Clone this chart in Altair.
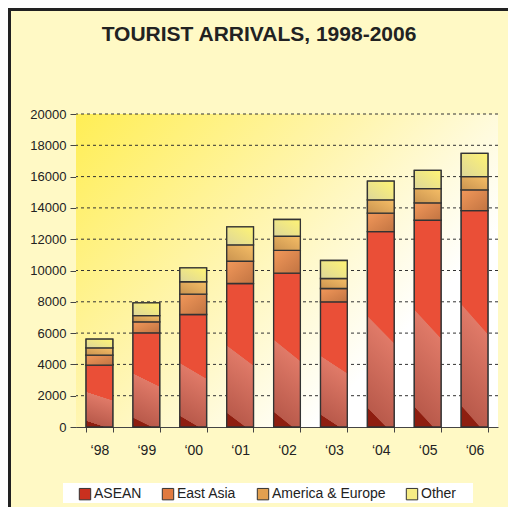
import altair as alt
import pandas as pd

years = ["\u201898", "\u201899", "\u201800", "\u201801", "\u201802", "\u201803", "\u201804", "\u201805", "\u201806"]
series = ["ASEAN", "East Asia", "America & Europe", "Other"]
asean = [3950, 6020, 7190, 9170, 9830, 8000, 12490, 13210, 13830]
east_asia = [640, 700, 1300, 1420, 1450, 850, 1170, 1110, 1320]
am_eu = [470, 400, 790, 1050, 910, 640, 855, 910, 850]
other = [550, 810, 890, 1150, 1070, 1150, 1190, 1170, 1490]
y_ticks = [0, 2000, 4000, 6000, 8000, 10000, 12000, 14000, 16000, 18000, 20000]
colors = ["#C9301F", "#E07A40", "#E2A050", "#F6EC84"]

rows = []
for i, yr in enumerate(years):
    start = 0
    for s, vals in zip(series, [asean, east_asia, am_eu, other]):
        v = vals[i]
        rows.append({"year": yr, "series": s, "value": v, "start": start, "end": start + v})
        start += v
df = pd.DataFrame(rows)
grid_df = pd.DataFrame({"g": y_ticks[1:]})

W, H = 422, 313
FONT = "Liberation Sans"

xenc = alt.X("year:N", sort=years, title=None,
             scale=alt.Scale(paddingInner=0.43, paddingOuter=0.215),
             axis=alt.Axis(labelAngle=0, tickBand="extent", tickSize=5, labelPadding=11,
                           labelFontSize=14, labelColor="#222", domainColor="#444",
                           tickColor="#444", labelFont=FONT))
yscale = alt.Scale(domain=[0, 20000], nice=False)
yaxis = alt.Axis(values=y_ticks, format="d", grid=False, tickSize=6, labelPadding=4,
                 labelOverlap=False, labelFontSize=13, labelColor="#222",
                 domainColor="#444", tickColor="#444", labelFont=FONT, title=None)

bg = alt.Chart(df).mark_rect(
    color=alt.LinearGradient(gradient="linear", x1=0, y1=0, x2=1, y2=0.7,
                             stops=[alt.GradientStop(offset=0, color="#FFEE55"),
                                    alt.GradientStop(offset=0.45, color="#FFF5AE"),
                                    alt.GradientStop(offset=0.85, color="#FFFFFF"),
                                    alt.GradientStop(offset=1, color="#FFFFFF")])
).encode(x=alt.value(0), x2=alt.value(W), y=alt.value(0), y2=alt.value(H))

legend_box = alt.Chart(df).mark_rect(color="white").encode(
    x=alt.value(-13), x2=alt.value(397), y=alt.value(369), y2=alt.value(389))

grid = alt.Chart(grid_df).mark_rule(color="#333", strokeDash=[3, 3], strokeWidth=1).encode(
    y=alt.Y("g:Q", scale=yscale, axis=yaxis, title=None))

bars = alt.Chart(df).mark_bar(stroke="#333", strokeWidth=1.3).encode(
    x=xenc,
    y=alt.Y("start:Q", scale=yscale, axis=yaxis, title=None),
    y2="end:Q",
    color=alt.Color("series:N", scale=alt.Scale(domain=series, range=colors),
                    legend=alt.Legend(title=None, orient="none", legendX=-2, legendY=369,
                                      direction="horizontal", padding=4,
                                      symbolType="square", symbolSize=130,
                                      symbolStrokeColor="#333", symbolStrokeWidth=1,
                                      symbolOpacity=1, labelFontSize=14, labelFont=FONT,
                                      labelColor="#222", columnPadding=18, labelOffset=2)),
)

def shade(name, grad):
    return alt.Chart(df).transform_filter(alt.datum.series == name).mark_bar(
        stroke="#333", strokeWidth=1.3, color=grad
    ).encode(x=alt.X("year:N", sort=years),
             y=alt.Y("start:Q", scale=yscale, axis=yaxis, title=None), y2="end:Q")

shade_asean = shade("ASEAN", alt.LinearGradient(
    gradient="linear", x1=0.57, y1=0, x2=0.43, y2=1,
    stops=[alt.GradientStop(offset=0, color="#EA4F37"),
           alt.GradientStop(offset=0.5, color="#EA4F37"),
           alt.GradientStop(offset=0.505, color="#E07A68"),
           alt.GradientStop(offset=0.96, color="#B95A4B"),
           alt.GradientStop(offset=0.965, color="#8E1E10"),
           alt.GradientStop(offset=1, color="#8E1E10")]))

shade_ea = shade("East Asia", alt.LinearGradient(
    gradient="linear", x1=0, y1=0, x2=1, y2=1,
    stops=[alt.GradientStop(offset=0, color="#F2985A"),
           alt.GradientStop(offset=1, color="#C27442")]))

shade_ae = shade("America & Europe", alt.LinearGradient(
    gradient="linear", x1=0, y1=1, x2=1, y2=0,
    stops=[alt.GradientStop(offset=0, color="#C99350"),
           alt.GradientStop(offset=1, color="#F6BE66")]))

shade_other = shade("Other", alt.LinearGradient(
    gradient="linear", x1=0, y1=1, x2=1, y2=0,
    stops=[alt.GradientStop(offset=0, color="#DDD69A"),
           alt.GradientStop(offset=1, color="#FFF474")]))

border = alt.Chart(df).mark_rect(fillOpacity=0, stroke="#222", strokeWidth=2.5).encode(
    x=alt.value(-67), x2=alt.value(800), y=alt.value(-105), y2=alt.value(800))

chart = alt.layer(bg, legend_box, grid, bars, shade_asean, shade_ea, shade_ae, shade_other,
                  border).properties(
    width=W, height=H,
    title=alt.TitleParams("TOURIST ARRIVALS, 1998-2006", anchor="middle", dx=-28,
                          fontSize=21, fontWeight="bold", font=FONT, color="#222",
                          baseline="alphabetic", offset=-54),
    autosize=alt.AutoSizeParams(type="none"),
    padding={"left": 68, "top": 106, "right": 10, "bottom": 80},
    background="#FFF9C5",
).resolve_scale(x="shared", y="shared").configure_view(stroke=None)

chart.save("out.html", embed_options={"renderer": "svg", "actions": False})
